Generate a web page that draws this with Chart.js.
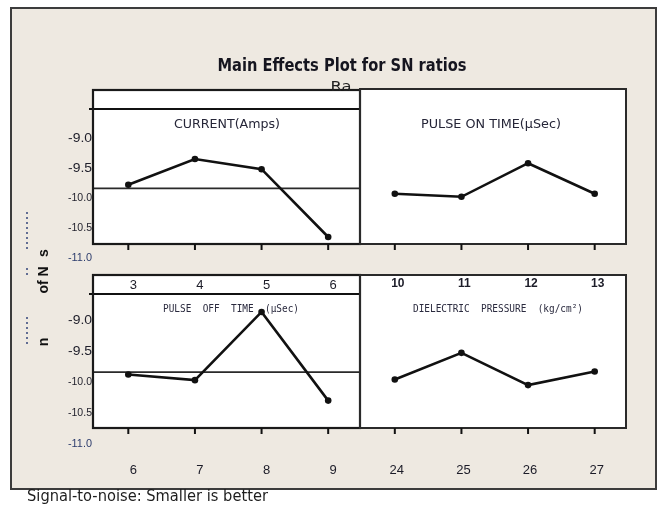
<!DOCTYPE html>
<html>
<head>
<meta charset="utf-8">
<script src="https://cdn.jsdelivr.net/npm/chart.js@4/dist/chart.umd.min.js"></script>
<style>
  html, body { margin: 0; padding: 0; background: #ffffff; }
  #wrap { width: 664px; height: 506px; }
  canvas { display: block; }
</style>
</head>
<body>
<div id="wrap"><canvas id="c" width="664" height="506"></canvas></div>
<script>
// Factor levels
const currentLevels  = ['3', '4', '5', '6'];
const pulseOnLevels  = ['10', '11', '12', '13'];
const pulseOffLevels = ['6', '7', '8', '9'];
const pressureLevels = ['24', '25', '26', '27'];

// Mean S/N ratio (dB) at each level
const currentSN  = [-9.78, -9.35, -9.52, -10.65];
const pulseOnSN  = [-9.93, -9.98, -9.42, -9.93];
const pulseOffSN = [-9.88, -9.97, -8.87, -10.30];
const pressureSN = [-9.96, -9.53, -10.05, -9.83];

// Overall mean S/N ratio (reference line)
const overallMean = -9.84;

// Y tick labels shown beside the left panels
const yTickValues = [-9.0, -9.5, -10.0, -10.5, -11.0];

const factorTitles = ['CURRENT(Amps)', 'PULSE ON TIME(\u00b5Sec)', 'PULSE  OFF  TIME  (\u00b5Sec)', 'DIELECTRIC  PRESSURE  (kg/cm\u00b2)'];

const NONE = [null, null, null, null];
const slots = [...currentLevels, ...pulseOnLevels];

function drawFit(ctx, text, x, y, font, width, color, align) {
  ctx.save();
  ctx.font = font;
  const w = ctx.measureText(text).width;
  const s = width ? width / w : 1;
  ctx.translate(x, y);
  ctx.scale(s, 1);
  ctx.fillStyle = color;
  ctx.textAlign = align || 'center';
  ctx.textBaseline = 'middle';
  ctx.fillText(text, 0, 0);
  ctx.restore();
}

const panelPlugin = {
  id: 'panels',
  beforeDatasetsDraw(chart) {
    const { ctx, chartArea: a, scales } = chart;
    const xs = scales.x, yT = scales.yTop, yB = scales.yBottom;
    const L = a.left - 2, R = a.right - 2, M = Math.round((L + R) / 2);
    const topBox = { t: a.top, b: a.top + 154 };
    const botBox = { t: a.bottom - 153, b: a.bottom };

    ctx.save();
    // page + outer frame
    ctx.fillStyle = '#ffffff';
    ctx.fillRect(0, 0, chart.width, chart.height);
    ctx.fillStyle = '#eee9e1';
    ctx.fillRect(11, 8, 645, 481);
    ctx.strokeStyle = '#3c3c3c';
    ctx.lineWidth = 2;
    ctx.strokeRect(11, 8, 645, 481);

    // panel interiors
    ctx.fillStyle = '#ffffff';
    ctx.fillRect(L, topBox.t, R - L, topBox.b - topBox.t);
    ctx.fillRect(L, botBox.t, R - L, botBox.b - botBox.t);

    // reference lines at the overall mean (left panels)
    ctx.strokeStyle = '#2a2a2a';
    ctx.lineWidth = 1.6;
    const rT = yT.getPixelForValue(overallMean), rB = yB.getPixelForValue(overallMean);
    ctx.beginPath();
    ctx.moveTo(L, rT); ctx.lineTo(M, rT);
    ctx.moveTo(L, rB); ctx.lineTo(M, rB);
    ctx.stroke();

    // header rules in left panels
    ctx.strokeStyle = '#111';
    ctx.lineWidth = 2.2;
    ctx.beginPath();
    ctx.moveTo(L - 4, topBox.t + 19); ctx.lineTo(M, topBox.t + 19);
    ctx.moveTo(L - 4, botBox.t + 19); ctx.lineTo(M, botBox.t + 19);
    ctx.stroke();

    // panel borders
    ctx.strokeStyle = '#1a1a1a';
    ctx.lineWidth = 2.2;
    ctx.strokeRect(L, topBox.t, M - L, topBox.b - topBox.t);
    ctx.strokeRect(L, botBox.t, M - L, botBox.b - botBox.t);
    ctx.lineWidth = 2;
    ctx.strokeStyle = '#2a2a2a';
    ctx.strokeRect(M, topBox.t - 1, R - M, topBox.b - topBox.t + 1);
    ctx.strokeRect(M, botBox.t, R - M, botBox.b - botBox.t);

    // category ticks below each panel row
    ctx.strokeStyle = '#111';
    ctx.lineWidth = 2;
    ctx.beginPath();
    for (let i = 0; i < slots.length; i++) {
      const px = xs.getPixelForValue(i);
      ctx.moveTo(px, topBox.b); ctx.lineTo(px, topBox.b + 6);
      ctx.moveTo(px, botBox.b); ctx.lineTo(px, botBox.b + 6);
    }
    ctx.stroke();

    // y tick labels
    yTickValues.forEach(v => {
      const txt = v.toFixed(1);
      const big = txt.length <= 4;
      const font = big ? '13px "Liberation Sans"' : '11px "Liberation Sans"';
      const col = v <= -11 ? '#2c3c6c' : '#1e1e2a';
      drawFit(ctx, txt, L - 1, yT.getPixelForValue(v), font, 24, col, 'right');
      drawFit(ctx, txt, L - 1, yB.getPixelForValue(v), font, 24, col, 'right');
    });

    // level labels
    const lvlFont = '13px "Liberation Sans"';
    currentLevels.forEach((t, i) => drawFit(ctx, t, xs.getPixelForValue(i) + 5, botBox.t + 10, lvlFont, 0, '#1c1c28'));
    pulseOnLevels.forEach((t, i) => drawFit(ctx, t, xs.getPixelForValue(i + 4) + 3, botBox.t + 9, 'bold 12px "Liberation Sans"', 0, '#1c1c28'));
    pulseOffLevels.forEach((t, i) => drawFit(ctx, t, xs.getPixelForValue(i) + 5, 470, lvlFont, 0, '#1c1c28'));
    pressureLevels.forEach((t, i) => drawFit(ctx, t, xs.getPixelForValue(i + 4) + 2, 470, lvlFont, 0, '#1c1c28'));

    // factor titles
    drawFit(ctx, factorTitles[0], 227, topBox.t + 35, '12px "DejaVu Sans"', 106, '#262638');
    drawFit(ctx, factorTitles[1], 491, topBox.t + 35, '12px "DejaVu Sans"', 140, '#262638');
    drawFit(ctx, factorTitles[2], 231, botBox.t + 34, '10px "DejaVu Sans Mono"', 136, '#2a2a3e');
    drawFit(ctx, factorTitles[3], 498, botBox.t + 34, '10px "DejaVu Sans Mono"', 170, '#2a2a3e');

    // chart title and subtitle
    drawFit(ctx, 'Main Effects Plot for SN ratios', 342, 66, 'bold 18px "DejaVu Sans"', 249, '#15151f');
    drawFit(ctx, 'Ra', 341, 87, '14px "DejaVu Sans"', 21, '#222');

    // y axis title
    ctx.save();
    ctx.translate(44, 300);
    ctx.rotate(-Math.PI / 2);
    ctx.fillStyle = '#111';
    ctx.font = 'bold 14px "Liberation Sans"';
    ctx.textBaseline = 'middle';
    ctx.textAlign = 'center';
    ctx.fillText('n', -42, 0);
    ctx.fillText('of N', 20, 0);
    ctx.fillText('s', 47, 0);
    ctx.restore();
    ctx.strokeStyle = '#33447a';
    ctx.lineWidth = 1.5;
    ctx.setLineDash([2, 3]);
    ctx.beginPath();
    ctx.moveTo(27, 212); ctx.lineTo(27, 250);
    ctx.moveTo(27, 268); ctx.lineTo(27, 278);
    ctx.moveTo(27, 317); ctx.lineTo(27, 346);
    ctx.stroke();
    ctx.setLineDash([]);

    // footnote
    drawFit(ctx, 'Signal-to-noise: Smaller is better', 27, 497, '15px "DejaVu Sans"', 241, '#1e1e1e', 'left');
    ctx.restore();
  }
};

const series = (values, before) => before ? [...NONE, ...values] : [...values, ...NONE];

new Chart(document.getElementById('c'), {
  type: 'line',
  data: {
    labels: slots,
    datasets: [
      { label: 'CURRENT', data: series(currentSN, false), yAxisID: 'yTop' },
      { label: 'PULSE ON TIME', data: series(pulseOnSN, true), yAxisID: 'yTop' },
      { label: 'PULSE OFF TIME', data: series(pulseOffSN, false), yAxisID: 'yBottom' },
      { label: 'DIELECTRIC PRESSURE', data: series(pressureSN, true), yAxisID: 'yBottom' }
    ]
  },
  options: {
    responsive: false,
    animation: false,
    spanGaps: false,
    layout: { padding: { left: 95, right: 36, top: 90, bottom: 78 } },
    elements: {
      line: { borderColor: '#111', borderWidth: 2.6, tension: 0, fill: false },
      point: { radius: 3.3, backgroundColor: '#111', borderColor: '#111', borderWidth: 0 }
    },
    scales: {
      x: { display: false, offset: true },
      yTop: { display: false, min: -13.8333, max: -8.2 },
      yBottom: { display: false, min: -10.742, max: -5.290 }
    },
    plugins: { legend: { display: false }, tooltip: { enabled: false } }
  },
  plugins: [panelPlugin]
});
</script>
</body>
</html>
